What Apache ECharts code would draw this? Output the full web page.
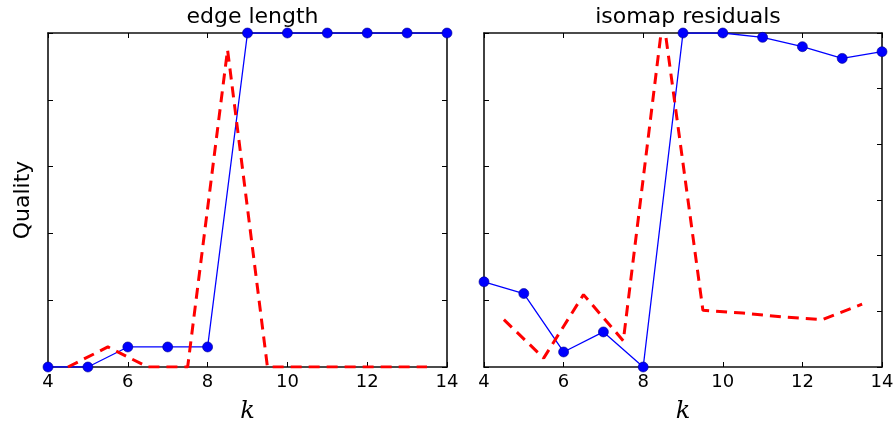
<!DOCTYPE html>
<html>
<head>
<meta charset="UTF-8">
<title></title>
<script src="https://cdn.jsdelivr.net/npm/echarts@6/dist/echarts.min.js"></script>
<style>
  html, body { margin: 0; padding: 0; background: #fff; }
  #chart { width: 895px; height: 423px; }
</style>
</head>
<body>
<div id="chart"></div>
<script>
// k values for the markers and for the dashed curve
var kBlue = [4, 5, 6, 7, 8, 9, 10, 11, 12, 13, 14];
var kRed = [4.5, 5.5, 6.5, 7.5, 8.5, 9.5, 10.5, 11.5, 12.5, 13.5];
var xTicks = [4, 6, 8, 10, 12, 14];
var titles = ['edge length', 'isomap residuals'];

// edge length panel (one scale, 0..1)
var edgeBlue = [0, 0, 0.06, 0.06, 0.06, 1, 1, 1, 1, 1, 1];
var edgeRed = [0, 0.06, 0, 0, 0.95, 0, 0, 0, 0, 0];

// isomap residuals panel (blue on left scale 0..1, red on right scale 0..6)
var isoBlue = [0.255, 0.22, 0.045, 0.105, 0, 1, 1, 0.987, 0.959, 0.924, 0.944];
var isoRed = [0.85, 0.16, 1.3, 0.47, 6.3, 1.02, 0.97, 0.9, 0.85, 1.13];

function pairs(xs, ys) {
  return xs.map(function (x, i) { return [x, ys[i]]; });
}

var myChart = echarts.init(document.getElementById('chart'));

var frame = { show: true, onZero: false, lineStyle: { color: '#111', width: 1.6 } };
var tick = { show: true, inside: true, length: 5, lineStyle: { color: '#000', width: 1 } };
var font = 'DejaVu Sans';

function xAx(grid, bottom) {
  return {
    type: 'value', gridIndex: grid, min: 4, max: 14, interval: 2,
    position: bottom ? 'bottom' : 'top',
    axisLine: frame, axisTick: tick, splitLine: { show: false },
    axisLabel: bottom ? { show: true, color: '#000', fontFamily: font, fontSize: 18, margin: 6 } : { show: false },
    name: bottom ? 'k' : '', nameLocation: 'middle', nameGap: 33,
    nameTextStyle: { fontFamily: 'DejaVu Serif', fontStyle: 'italic', fontSize: 24, color: '#000' }
  };
}
function yAx(grid, right, max, interval, name) {
  return {
    type: 'value', gridIndex: grid, min: 0, max: max, interval: interval,
    position: right ? 'right' : 'left',
    axisLine: frame, axisTick: tick, splitLine: { show: false },
    axisLabel: { show: false },
    name: name || '', nameLocation: 'middle', nameGap: 14, nameRotate: 90,
    nameTextStyle: { fontFamily: font, fontSize: 22, color: '#000' }
  };
}

var blueStyle = {
  type: 'line', symbol: 'circle', symbolSize: 10, z: 3,
  lineStyle: { color: '#0000ff', width: 1.3 },
  itemStyle: { color: '#0000ff', borderColor: '#00008a', borderWidth: 0.6 }
};
var redStyle = {
  type: 'line', symbol: 'none', z: 4,
  lineStyle: { color: '#ff0000', width: 3, type: [11, 7] }
};

myChart.setOption({
  animation: false,
  backgroundColor: '#fff',
  title: [
    { text: titles[0], left: 247.5, top: 1, textAlign: 'center',
      textStyle: { fontFamily: font, fontSize: 22, fontWeight: 'normal', color: '#000' } },
    { text: titles[1], left: 683, top: 1, textAlign: 'center',
      textStyle: { fontFamily: font, fontSize: 22, fontWeight: 'normal', color: '#000' } }
  ],
  grid: [
    { left: 48, top: 33, width: 399, height: 334, outerBoundsMode: 'none', containLabel: false },
    { left: 484, top: 33, width: 398, height: 334, outerBoundsMode: 'none', containLabel: false }
  ],
  xAxis: [xAx(0, true), xAx(0, false), xAx(1, true), xAx(1, false)],
  yAxis: [
    yAx(0, false, 1, 0.2, 'Quality'),
    yAx(0, true, 1, 0.2),
    yAx(1, false, 1, 0.2),
    yAx(1, true, 6, 1)
  ],
  series: [
    Object.assign({ xAxisIndex: 0, yAxisIndex: 0, data: pairs(kBlue, edgeBlue) }, blueStyle),
    Object.assign({ xAxisIndex: 0, yAxisIndex: 0, data: pairs(kRed, edgeRed) }, redStyle),
    Object.assign({ xAxisIndex: 2, yAxisIndex: 2, data: pairs(kBlue, isoBlue) }, blueStyle),
    Object.assign({ xAxisIndex: 2, yAxisIndex: 3, data: pairs(kRed, isoRed) }, redStyle)
  ]
});
</script>
</body>
</html>
